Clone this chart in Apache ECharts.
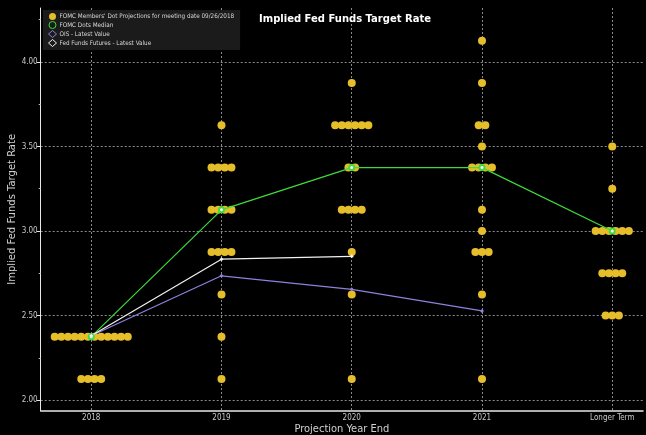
<!DOCTYPE html>
<html><head><meta charset="utf-8">
<script src="https://cdn.jsdelivr.net/npm/echarts@6/dist/echarts.min.js"></script>
<style>html,body{margin:0;padding:0;background:#000}#c{width:646px;height:435px}</style>
</head><body><div id="c"></div>
<script>
const categories = ['2018', '2019', '2020', '2021', 'Longer Term'];
const yTicks = [2.0, 2.5, 3.0, 3.5, 4.0];
const yMinorTicks = [2.25, 2.75, 3.25, 3.75, 4.25];
// FOMC dot projections: [rate, number of participants]
const dots2018 = [[2.375, 12], [2.125, 4]];
const dots2019 = [[3.625, 1], [3.375, 4], [3.125, 4], [2.875, 4], [2.625, 1], [2.375, 1], [2.125, 1]];
const dots2020 = [[3.875, 1], [3.625, 6], [3.375, 2], [3.125, 4], [2.875, 1], [2.625, 1], [2.125, 1]];
const dots2021 = [[4.125, 1], [3.875, 1], [3.625, 2], [3.5, 1], [3.375, 4], [3.125, 1], [3.0, 1], [2.875, 3], [2.625, 1], [2.125, 1]];
const dotsLonger = [[3.5, 1], [3.25, 1], [3.0, 6], [2.75, 4], [2.5, 3]];
const medianValues = [2.375, 3.125, 3.375, 3.375, 3.0];
const oisValues = [2.38, 2.735, 2.655, 2.527];
const futuresValues = [2.38, 2.833, 2.85];

const legendNames = [
  "FOMC Members' Dot Projections for meeting date 09/26/2018",
  'FOMC Dots Median',
  'OIS - Latest Value',
  'Fed Funds Futures - Latest Value'
];
const dotColor = '#e6be2a', greenC = '#3ddc3d', purpleC = '#8f80e0', whiteC = '#f2f2f2';
const DOT_SPREAD = 0.051;

const allDots = [dots2018, dots2019, dots2020, dots2021, dotsLonger];
const dotData = [];
allDots.forEach((rows, ci) => {
  rows.forEach(([v, n]) => {
    for (let j = 0; j < n; j++) dotData.push([ci + (j - (n - 1) / 2) * DOT_SPREAD, v]);
  });
});
const toPts = arr => arr.map((v, i) => [i, v]);

const chart = echarts.init(document.getElementById('c'));
const gridLine = { show: true, lineStyle: { color: '#8a8a8a', type: [2, 2], width: 1 } };
chart.setOption({
  backgroundColor: '#000',
  animation: false,
  title: {
    text: 'Implied Fed Funds Target Rate', left: 254, top: 9,
    textStyle: { color: '#fff', fontSize: 10, fontWeight: 'bold', fontFamily: 'DejaVu Sans' }
  },
  legend: {
    orient: 'vertical', left: 43, top: 10, itemWidth: 8, itemHeight: 7, itemGap: 1,
    padding: [3, 6, 3, 5], backgroundColor: '#1b1b1b',
    textStyle: { color: '#d8d8d8', fontSize: 6.3, fontFamily: 'Liberation Sans Narrow, DejaVu Sans Condensed, sans-serif', padding: [0, 0, 0, -2] },
    data: [
      { name: legendNames[0], icon: 'circle', itemStyle: { color: dotColor } },
      { name: legendNames[1], icon: 'circle', itemStyle: { color: 'transparent', borderColor: greenC, borderWidth: 1 } },
      { name: legendNames[2], icon: 'diamond', itemStyle: { color: 'transparent', borderColor: purpleC, borderWidth: 1 } },
      { name: legendNames[3], icon: 'diamond', itemStyle: { color: 'transparent', borderColor: whiteC, borderWidth: 1 } }
    ]
  },
  grid: { left: 40.7, right: 3, top: 8, bottom: 24.3, containLabel: false, outerBoundsMode: 'none' },
  xAxis: {
    type: 'value', min: -0.388, max: 4.236,
    name: 'Projection Year End', nameLocation: 'middle', nameGap: 13, nameMoveOverlap: false,
    nameTextStyle: { color: '#d0d0d0', fontSize: 11, fontFamily: 'DejaVu Sans Condensed, sans-serif' },
    axisLine: { show: true, onZero: false, lineStyle: { color: '#e8e8e8', width: 1.5 } },
    axisTick: { show: false, customValues: [0, 1, 2, 3, 4] },
    axisLabel: {
      customValues: [0, 1, 2, 3, 4], formatter: v => categories[Math.round(v)],
      color: '#c8c8c8', fontSize: 8, margin: 3, fontFamily: 'DejaVu Sans Condensed, sans-serif'
    },
    splitLine: gridLine
  },
  yAxis: [{
    type: 'value', min: 1.9367, max: 4.3195,
    name: 'Implied Fed Funds Target Rate', nameLocation: 'middle', nameGap: 23, nameMoveOverlap: false,
    nameTextStyle: { color: '#d0d0d0', fontSize: 10, fontFamily: 'DejaVu Sans, sans-serif' },
    axisLine: { show: true, onZero: false, lineStyle: { color: '#e8e8e8', width: 1 } },
    axisTick: { show: true, customValues: yTicks, length: 4, lineStyle: { color: '#e8e8e8' } },
    axisLabel: {
      customValues: yTicks, formatter: v => v.toFixed(2),
      color: '#c8c8c8', fontSize: 8, margin: 3, fontFamily: 'DejaVu Sans Condensed, sans-serif'
    },
    splitLine: gridLine
  }, {
    type: 'value', min: 1.9367, max: 4.3195, position: 'left', offset: 0,
    axisLine: { show: false, onZero: false },
    axisTick: { show: true, inside: false, customValues: yMinorTicks, length: 2, lineStyle: { color: '#bbbbbb' } },
    axisLabel: { show: false },
    splitLine: { show: false }
  }],
  series: [
    {
      name: legendNames[0], type: 'scatter', data: dotData, symbolSize: 8,
      itemStyle: { color: dotColor, opacity: 1 }, z: 2
    },
    {
      name: legendNames[1], type: 'line', data: toPts(medianValues), z: 4,
      lineStyle: { color: greenC, width: 1.2 }, itemStyle: { color: greenC },
      symbol: 'emptyCircle', symbolSize: 5
    },
    {
      name: legendNames[2], type: 'line', data: toPts(oisValues), z: 4,
      lineStyle: { color: purpleC, width: 1.2 }, itemStyle: { color: purpleC },
      symbol: 'diamond', symbolSize: 4
    },
    {
      name: legendNames[3], type: 'line', data: toPts(futuresValues), z: 4,
      lineStyle: { color: whiteC, width: 1.2 }, itemStyle: { color: whiteC },
      symbol: 'diamond', symbolSize: 4
    }
  ]
});
</script></body></html>
